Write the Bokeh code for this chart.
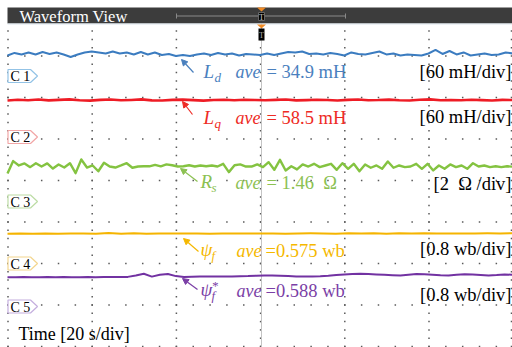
import numpy as np
from bokeh.plotting import figure
from bokeh.models import Range1d, Arrow, NormalHead
from bokeh.core.properties import value
from bokeh.embed import file_html
from bokeh.resources import INLINE

# ---------------- data ----------------
time_span_s = 120          # 6 divisions x 20 s/div
time_label = "Time [20 s/div]"

ld_mH = [32.4, 36.1, 33.9, 36.8, 33.9, 37.5, 34.6, 36.8, 33.9, 30.3, 33.9, 36.8, 38.2, 36.8,
         35.3, 38.2, 35.3, 36.8, 33.9, 37.5, 33.9, 36.8, 33.2, 34.6, 31.7, 33.2, 31.7, 33.9,
         35.3, 33.2, 36.1, 33.9, 35.3, 32.4, 34.6, 33.9, 33.2, 35.3, 33.2, 35.3, 37.5, 36.8,
         38.2, 34.6, 35.3, 33.9, 36.1, 34.6, 32.4, 36.8, 34.6, 33.9, 36.1, 38.2, 33.9, 35.3,
         32.4, 33.9, 33.2, 32.4, 35.3, 40.4, 34.6, 38.9, 33.9, 36.8, 32.4, 33.9, 35.3, 33.2,
         33.9, 36.8, 35.3]
lq_mH = [57.8, 58.9, 58.2, 59.3, 58.0, 58.7, 59.5, 58.3, 57.6, 58.8, 59.2, 58.1, 58.6, 59.4,
         58.0, 57.9, 58.8, 59.1, 58.4, 57.7, 58.6, 58.9, 58.2, 59.0, 58.5, 58.1, 58.8, 59.3,
         58.0, 58.4, 59.0, 58.6, 57.9, 58.7, 59.2, 58.3, 58.5, 59.1, 58.2, 57.8, 58.9, 59.4,
         58.1, 58.6, 58.3, 59.0, 58.4, 57.9, 58.8, 58.5]
rs_ohm = [1.11, 1.71, 1.50, 1.60, 1.42, 1.61, 1.45, 1.60, 1.35, 1.55, 1.40, 1.61, 1.13, 1.79,
          1.40, 1.50, 1.22, 1.63, 1.45, 1.40, 1.50, 1.61, 1.39, 1.45, 1.46, 1.46, 1.53, 1.46,
          1.55, 1.51, 1.45, 1.46, 1.51, 1.45, 1.50, 1.46, 1.50, 1.45, 1.58, 1.18, 1.51, 1.55,
          1.45, 1.45, 1.55, 1.42, 1.66, 1.29, 1.77, 1.26, 1.46, 1.31, 1.55, 1.45, 1.58, 1.42,
          1.50, 1.58, 1.29, 1.61, 1.34, 1.58, 1.22, 1.55, 1.39, 1.50, 1.34, 1.69, 1.39, 1.50,
          1.42, 1.45, 1.58, 1.34, 1.58, 1.26, 1.50, 1.34, 1.55, 1.42, 1.50, 1.34, 1.61, 1.45,
          1.50, 1.42, 1.46, 1.42, 1.46, 1.44]
psi_f_wb = [0.572, 0.575, 0.571, 0.574, 0.570, 0.573, 0.576, 0.571, 0.582, 0.570, 0.578,
            0.572, 0.574, 0.576, 0.573, 0.575, 0.572, 0.574, 0.575, 0.573, 0.576, 0.574,
            0.572, 0.575, 0.577, 0.574, 0.572, 0.580, 0.573, 0.578, 0.572, 0.577, 0.574,
            0.579, 0.573, 0.576, 0.574, 0.575, 0.577, 0.576, 0.578]
psi_f_star_wb = [0.565, 0.565, 0.567, 0.565, 0.565, 0.567, 0.565, 0.567, 0.565, 0.565, 0.567,
                 0.565, 0.567, 0.569, 0.567, 0.571, 0.598, 0.630, 0.576, 0.611, 0.627, 0.586,
                 0.567, 0.573, 0.578, 0.576, 0.578, 0.580, 0.578, 0.582, 0.586, 0.594, 0.598,
                 0.596, 0.592, 0.586, 0.580, 0.578, 0.580, 0.582, 0.592, 0.607, 0.617, 0.625,
                 0.630, 0.625, 0.617, 0.611, 0.603, 0.598, 0.611, 0.627, 0.621, 0.611, 0.602,
                 0.598, 0.613, 0.623, 0.615, 0.607, 0.598, 0.605, 0.617, 0.611]

channel_tags = ["C 1", "C 2", "C 3", "C 4", "C 5"]
channel_values = [ld_mH, lq_mH, rs_ohm, psi_f_wb, psi_f_star_wb]
channel_scales = [60, 60, 2, 0.8, 0.8]          # units per division
channel_scale_text = ["[60 mH/div]", "[60 mH/div]", "[2\u00a0\u00a0\u03a9 /div]",
                      "[0.8 wb/div]", "[0.8 wb/div]"]
channel_symbol = ["L", "L", "R", "\u03c8", "\u03c8"]
channel_sub = ["d", "q", "s", "f", "f"]
channel_sup = ["", "", "", "", "*"]
ave_word = "ave"
channel_ave_value = ["= 34.9 mH", "= 58.5 mH", "= 1.46\u00a0\u00a0\u03a9",
                     "=0.575 wb", "=0.588 wb"]

# ---------------- layout / style ----------------
PAGE_W, PAGE_H = 512, 347
PX_DIV_Y = 41.5
PX_DIV_X = 84.2
X0 = 7                      # left edge of the screen grid (page px)
chan_zero_px = [77.4, 140.0, 196.1, 262.8, 306.0]
tag_center_px = [75.5, 136.5, 201.0, 263.0, 306.0]
line_colors = ["#3b7cc0", "#ee1c25", "#84c341", "#f5b400", "#7232a2"]
text_colors = ["#4a80be", "#ee2a24", "#8cc152", "#f5b800", "#7b3fa6"]
tag_colors = ["#93c3e6", "#f2a6a6", "#bcdca4", "#f3d68e", "#c4aede"]
line_widths = [2.0, 2.6, 2.4, 2.0, 2.0]
sym_x = [203, 203, 200, 200, 200]
ave_x = [235, 235, 235, 236, 236]
val_dx = [31, 31, 31, 29, 29]
sym_base = [77, 123, 187, 255, 295]
ave_base = [77, 123, 188, 256, 296]
scale_base = [77, 122, 189, 254, 300]
arrow_start = [(193, 72), (192, 114), (197, 181), (198, 251), (197, 289)]
arrow_end = [(181, 59), (182, 101), (180, 168), (183, 238), (182, 278)]
BASE_SHIFT = 0.3            # baseline correction, fraction of font size

SERIF = value("Liberation Serif")

p = figure(width=PAGE_W, height=PAGE_H,
           x_range=Range1d(0, PAGE_W), y_range=Range1d(PAGE_H, 0),
           x_axis_location=None, y_axis_location=None, toolbar_location=None,
           output_backend="svg", min_border=0, outline_line_color=None,
           background_fill_color="white", border_fill_color="white")
p.extra_x_ranges = {"time": Range1d(-X0 / PX_DIV_X * 20, (PAGE_W - X0) / PX_DIV_X * 20)}
p.grid.visible = False


def label(x, y, txt, size, color, style="normal", align="left"):
    p.text([x], [y - BASE_SHIFT * size], text=[txt], text_font=SERIF,
           text_font_size="%gpx" % size, text_font_style=style, text_color=color,
           text_align=align, text_baseline="alphabetic")


# dotted grid
gx = [X0 + 0.5 + PX_DIV_X * k for k in range(7)]
gx[-1] = min(gx[-1], PAGE_W - 1)
gy = [346 - PX_DIV_Y * j for j in range(8)]
dx, dy = [], []
for x in gx:
    for i in range(40):
        yy = 346 - PX_DIV_Y / 5 * i
        if yy > 23:
            dx.append(x); dy.append(yy)
for yy in gy:
    for m in range(31):
        dx.append(X0 + 0.5 + PX_DIV_X / 5 * m); dy.append(yy)
p.scatter(dx, dy, marker="square", size=1.5, color="#5a5a5a", line_color=None)

# trigger line
p.segment(x0=[261], y0=[23], x1=[261], y1=[PAGE_H], line_color="#c4c4c4", line_width=1)

# channel traces
for i, vals in enumerate(channel_values):
    z, s = chan_zero_px[i], channel_scales[i]
    rname = "ch%d" % (i + 1)
    p.extra_y_ranges[rname] = Range1d(start=(z - PAGE_H) * s / PX_DIV_Y,
                                      end=z * s / PX_DIV_Y)
    t = np.linspace(0, time_span_s, len(vals))
    p.line(t, vals, x_range_name="time", y_range_name=rname,
           line_color=line_colors[i], line_width=line_widths[i], line_join="round")

# channel tags
for i, tag in enumerate(channel_tags):
    c = tag_center_px[i]
    p.patch([7.5, 30, 37, 30, 7.5], [c - 6.5, c - 6.5, c, c + 6.5, c + 6.5],
            fill_color="white", line_color=tag_colors[i], line_width=1.2)
    label(10, c + 5, tag, 14, "black")

# annotations
for i in range(5):
    col = text_colors[i]
    p.add_layout(Arrow(end=NormalHead(size=6, fill_color=col, line_color=col),
                       x_start=arrow_start[i][0], y_start=arrow_start[i][1],
                       x_end=arrow_end[i][0], y_end=arrow_end[i][1],
                       line_color=col, line_width=1.2))
    label(sym_x[i], sym_base[i], channel_symbol[i], 19, col, "italic")
    subx = sym_x[i] + 11
    label(subx, sym_base[i] + 4, channel_sub[i], 13, col, "italic")
    if channel_sup[i]:
        label(subx, sym_base[i] - 6, channel_sup[i], 13, col, "italic")
    label(ave_x[i], ave_base[i], ave_word, 18, col, "italic")
    label(ave_x[i] + val_dx[i], ave_base[i], channel_ave_value[i], 18.5, col)
    label(511, scale_base[i], channel_scale_text[i], 18.5, "black", align="right")

label(18, 339, time_label, 18, "black")

# header bar
p.quad(left=[X0], right=[PAGE_W], top=[7], bottom=[23],
       fill_color="#3c3c3c", line_color=None)
p.segment(x0=[X0], y0=[23.5], x1=[PAGE_W], y1=[23.5], line_color="#dce6ee", line_width=1)
label(19, 21, "Waveform View", 16.5, "white")
p.segment(x0=[176], y0=[15.5], x1=[345], y1=[15.5], line_color="#8a8a8a", line_width=1)
p.segment(x0=[176, 345], y0=[13, 13], x1=[176, 345], y1=[18, 18],
          line_color="#8a8a8a", line_width=1)
# trigger markers
p.patch([256.5, 265.5, 261], [7, 7, 11], fill_color="#f08a24", line_color=None)
p.quad(left=[258], right=[264], top=[12], bottom=[20], fill_color="black", line_color="#666666")
label(261, 19, "T", 8, "#cccccc", align="center")
p.patch([256.5, 265.5, 261], [24, 24, 28], fill_color="#f08a24", line_color=None)
p.quad(left=[258], right=[264], top=[28], bottom=[40], fill_color="black", line_color=None)
label(261, 37, "T", 8, "#aaaaaa", align="center")

open("out.html", "w").write(file_html(p, INLINE))
